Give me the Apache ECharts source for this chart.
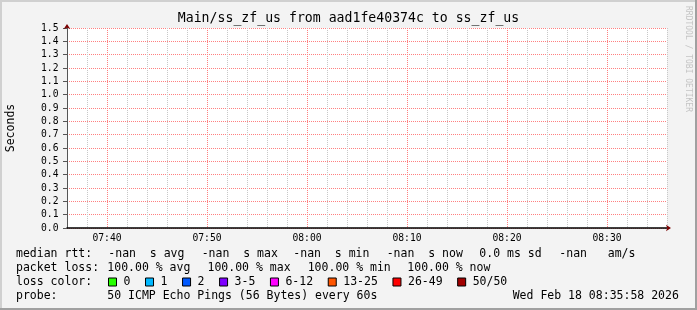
<!DOCTYPE html>
<html><head><meta charset="utf-8">
<script src="https://cdn.jsdelivr.net/npm/echarts@6/dist/echarts.min.js"></script>
<style>html,body{margin:0;padding:0;background:#f3f3f3}#c{width:697px;height:310px}</style>
</head><body><div id="c"></div><script>
// ---- data ----
const titleText = 'Main/ss_zf_us from aad1fe40374c to ss_zf_us';
const yAxisName = 'Seconds';
const xStartMinute = 456;   // 07:36 (minutes after midnight)
const xEndMinute = 516;     // 08:36
const yTickMin = 0, yTickMax = 1.5, yTickStep = 0.1;
const xMajorStep = 10, xMinorStep = 2;
// every probe in this window returned -nan (100% loss): nothing to plot
const medianRttSeconds = [];
const lossLabels = ['0', '1', '2', '3-5', '6-12', '13-25', '26-49', '50/50'];
const lossColors = ['#26ff00', '#00b8ff', '#0059ff', '#7e00ff', '#ff00ff', '#ff5500', '#ff0000', '#a10000'];
const rttRow = ['median rtt:', '-nan  s avg', '-nan  s max', '-nan  s min', '-nan  s now', '0.0 ms sd', '-nan   am/s'];
const lossRow = ['packet loss:', '100.00 % avg', '100.00 % max', '100.00 % min', '100.00 % now'];
const lossColorLabel = 'loss color:';
const probeRow = ['probe:', '50 ICMP Echo Pings (56 Bytes) every 60s'];
const stampText = 'Wed Feb 18 08:35:58 2026';
const watermark = 'RRDTOOL / TOBI OETIKER';

// ---- layout ----
const MONO = 'DejaVu Sans Mono';
const rttX = [16, 108.3, 201.7, 293.3, 386.7, 479.3, 559.3];
const lossX = [16, 107.3, 207.5, 307.7, 407.3];
const probeX = [16, 107.3];
const rowY = [254.3, 268.3, 281.7, 296];
const MAJOR = '#ff8080', MINOR = '#c8c8c8';

function txt(s, x, y, extra) {
  return Object.assign({type: 'text', x: x, y: y, silent: true,
    style: {text: s, fill: '#000', font: '11.5px "' + MONO + '"', verticalAlign: 'middle', align: 'left'}}, extra || {});
}
const graphics = [];
rttRow.forEach((s, i) => graphics.push(txt(s, rttX[i], rowY[0])));
lossRow.forEach((s, i) => graphics.push(txt(s, lossX[i], rowY[1])));
graphics.push(txt(lossColorLabel, 16, rowY[2]));
probeRow.forEach((s, i) => graphics.push(txt(s, probeX[i], rowY[3])));
graphics.push(txt(stampText, 512.7, rowY[3]));
graphics.push({type: 'text', x: 688.5, y: 59, rotation: -Math.PI / 2, silent: true,
  style: {text: watermark, fill: '#c4c4c4', font: '8px "' + MONO + '"', align: 'center', verticalAlign: 'middle'}});
// 3D frame
graphics.push({type: 'rect', shape: {x: 0, y: 0, width: 697, height: 2}, style: {fill: '#d0d0d0'}, silent: true});
graphics.push({type: 'rect', shape: {x: 0, y: 0, width: 2, height: 310}, style: {fill: '#d0d0d0'}, silent: true});
graphics.push({type: 'rect', shape: {x: 695, y: 0, width: 2, height: 310}, style: {fill: '#a0a0a0'}, silent: true});
graphics.push({type: 'rect', shape: {x: 0, y: 308, width: 697, height: 2}, style: {fill: '#a0a0a0'}, silent: true});

function hhmm(v) {
  const h = Math.floor(v / 60), m = v % 60;
  return String(h).padStart(2, '0') + ':' + String(m).padStart(2, '0');
}

const series = [{
  name: 'median rtt', type: 'line', xAxisIndex: 1, yAxisIndex: 0,
  data: medianRttSeconds, showSymbol: false, lineStyle: {color: '#00c000'}
}];
lossLabels.forEach((l, i) => series.push({
  name: l, type: 'line', xAxisIndex: 1, yAxisIndex: 0, data: [],
  itemStyle: {color: lossColors[i]}, lineStyle: {color: lossColors[i]}
}));

const chart = echarts.init(document.getElementById('c'), null, {renderer: 'canvas'});
chart.setOption({
  backgroundColor: '#f3f3f3',
  animation: false,
  title: {text: titleText, left: 'center', top: 12, padding: 0,
    textStyle: {fontFamily: MONO, fontSize: 13.2, fontWeight: 'normal', color: '#000'}},
  legend: {data: lossLabels, left: 108, top: 276, padding: 0, icon: 'rect',
    itemWidth: 8, itemHeight: 8, itemGap: 14.6, selectedMode: false,
    itemStyle: {borderColor: '#000', borderWidth: 1},
    textStyle: {fontFamily: MONO, fontSize: 11.5, color: '#000', padding: [0, 0, 0, 2]}},
  grid: {left: 67, right: 30, top: 28, bottom: 82, show: true, backgroundColor: '#fff', borderWidth: 0,
    containLabel: false, outerBoundsMode: 'none'},
  xAxis: [
    {type: 'value', position: 'bottom', min: xStartMinute, max: xEndMinute, interval: xMinorStep,
      axisLine: {show: false}, axisTick: {show: false}, axisLabel: {show: false},
      splitLine: {show: true, lineStyle: {color: MINOR, width: 1, type: [1, 1]}}},
    {type: 'value', position: 'bottom', min: xStartMinute, max: xEndMinute, minInterval: xMajorStep, maxInterval: xMajorStep,
      axisLine: {show: true, onZero: false, lineStyle: {color: '#000', width: 1.5}},
      axisTick: {show: false},
      axisLabel: {formatter: hhmm, fontFamily: MONO, fontSize: 9.7, color: '#000', margin: 5,
        showMinLabel: false, showMaxLabel: false},
      splitLine: {show: true, showMinLine: false, showMaxLine: false, lineStyle: {color: MAJOR, width: 1, type: [1, 1]}}},
    {type: 'value', position: 'bottom', min: xStartMinute, max: xEndMinute,
      axisLine: {show: true, onZero: false, symbol: ['none', 'arrow'], symbolSize: [5, 5], symbolOffset: [0, 4],
        lineStyle: {color: '#7a0000', width: 0}},
      axisTick: {show: false}, axisLabel: {show: false}, splitLine: {show: false}}
  ],
  yAxis: [
    {type: 'value', position: 'left', min: yTickMin, max: yTickMax, interval: yTickStep,
      name: yAxisName, nameLocation: 'middle', nameGap: 50,
      nameTextStyle: {fontFamily: MONO, fontSize: 11.5, color: '#000'},
      axisLine: {show: true, onZero: false, lineStyle: {color: '#555', width: 1}},
      axisTick: {show: true, length: 4, lineStyle: {color: '#555'}},
      axisLabel: {formatter: v => v.toFixed(1), fontFamily: MONO, fontSize: 9.7, color: '#000', margin: 8.5},
      splitLine: {show: true, lineStyle: {color: MAJOR, width: 1, type: [1, 1]}}},
    {type: 'value', position: 'left', min: yTickMin, max: yTickMax,
      axisLine: {show: true, onZero: false, symbol: ['none', 'arrow'], symbolSize: [5, 5], symbolOffset: [0, 4],
        lineStyle: {color: '#7a0000', width: 0}},
      axisTick: {show: false}, axisLabel: {show: false}, splitLine: {show: false}}
  ],
  graphic: graphics,
  series: series
});
</script></body></html>
